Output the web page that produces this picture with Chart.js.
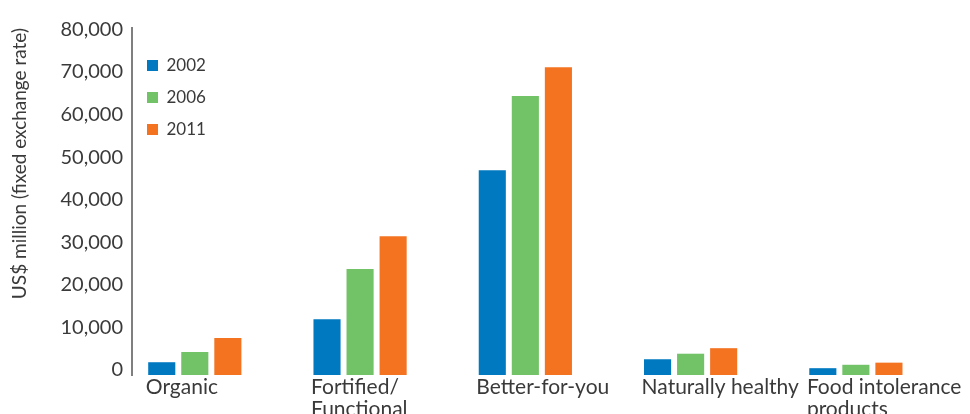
<!DOCTYPE html>
<html>
<head>
<meta charset="utf-8">
<script src="https://cdn.jsdelivr.net/npm/chart.js@4"></script>
<style>
  html, body { margin: 0; padding: 0; background: #fff; }
  #wrap { width: 970px; height: 414px; }
</style>
</head>
<body>
<div id="wrap"><canvas id="barchart"></canvas></div>
<script>
const categories = ['Organic', ['Fortified/', 'Functional'], 'Better-for-you', 'Naturally healthy', ['Food intolerance', 'products']];
const years = ['2002', '2006', '2011'];
const sales2002 = [3000, 13100, 48100, 3700, 1600];
const sales2006 = [5400, 24900, 65500, 5000, 2400];
const sales2011 = [8700, 32600, 72300, 6300, 2900];
const colors = ['#0079c1', '#72c267', '#f37321'];

const textColor = '#3a3a3a';
const fontFamily = 'Lato, "Open Sans", sans-serif';

function toPoints(values) {
    return values.map((v, i) => ({ x: i, y: v }));
}

document.addEventListener("DOMContentLoaded", function() {
    const ctx = document.getElementById('barchart');

    new Chart(ctx, {
        type: 'bar',
        data: {
            datasets: [
                { label: years[0], backgroundColor: colors[0], data: toPoints(sales2002) },
                { label: years[1], backgroundColor: colors[1], data: toPoints(sales2006) },
                { label: years[2], backgroundColor: colors[2], data: toPoints(sales2011) }
            ]
        },
        options: {
            responsive: true,
            maintainAspectRatio: false,
            animation: false,
            categoryPercentage: 0.6,
            barPercentage: 0.82,
            layout: {
                padding: { top: 28, right: 10, bottom: 0, left: 0 }
            },
            plugins: {
                tooltip: { enabled: false },
                legend: {
                    position: 'chartArea',
                    align: 'start',
                    // empty title just pushes the legend rows down
                    title: { display: true, text: '', padding: { top: 30, bottom: 0 }, font: { size: 10 } },
                    labels: {
                        boxWidth: 11,
                        boxHeight: 11,
                        padding: 15,
                        color: textColor,
                        font: { family: fontFamily, size: 17 }
                    }
                }
            },
            scales: {
                x: {
                    type: 'linear',
                    offset: false,
                    // range kept off a whole number of steps so ticks stay on the integers
                    min: -0.38,
                    max: 4.63,
                    grid: { display: false, drawTicks: false },
                    border: { display: false },
                    afterFit: (scale) => {
                        scale.height = 39;
                        scale.paddingLeft = 0;
                        scale.paddingRight = 0;
                    },
                    ticks: {
                        stepSize: 1,
                        includeBounds: false,
                        autoSkip: false,
                        maxRotation: 0,
                        align: 'start',
                        labelOffset: -49,
                        padding: 1,
                        color: textColor,
                        font: { family: fontFamily, size: 21, lineHeight: 1.05 },
                        callback: (value) => categories[value]
                    }
                },
                y: {
                    beginAtZero: true,
                    max: 81500,
                    grid: { display: false, drawTicks: false },
                    border: { display: true, color: '#7f7f7f', width: 2 },
                    afterFit: (scale) => { scale.width = 132; },
                    title: {
                        display: true,
                        text: 'US$ million (fixed exchange rate)',
                        align: 'end',
                        color: textColor,
                        padding: { top: 8, bottom: 0 },
                        font: { family: fontFamily, size: 19 }
                    },
                    ticks: {
                        stepSize: 10000,
                        includeBounds: false,
                        padding: 9,
                        labelOffset: -5,
                        color: textColor,
                        font: { family: fontFamily, size: 20 },
                        callback: (value) => value.toLocaleString('en-US')
                    }
                }
            }
        }
    });
});
</script>
</body>
</html>
